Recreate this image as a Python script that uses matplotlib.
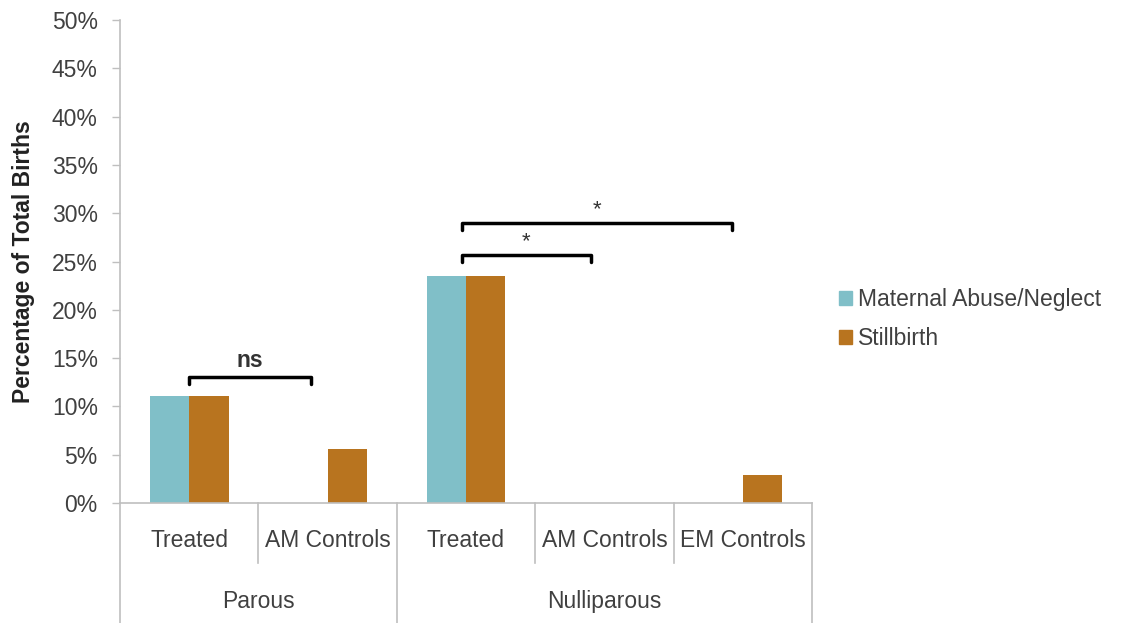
import matplotlib
matplotlib.use("Agg")
import matplotlib.pyplot as plt
from matplotlib.patches import Patch
from matplotlib.lines import Line2D
import matplotlib.transforms as mtransforms
import numpy as np

plt.rcParams['font.family'] = ['Liberation Sans', 'DejaVu Sans']

categories = ["Treated", "AM Controls", "Treated", "AM Controls", "EM Controls"]
groups = ["Parous", "Nulliparous"]
group_sizes = [2, 3]
series_names = ["Maternal Abuse/Neglect", "Stillbirth"]
abuse = [11.1, 0.0, 23.5, 0.0, 0.0]
stillbirth = [11.1, 5.6, 23.5, 0.0, 2.9]
yticks = [0, 5, 10, 15, 20, 25, 30, 35, 40, 45, 50]

# significance annotations: (x_start, x_end, y, label, bold)
brackets = [(0.0, 0.88, 13.0, "ns", True),
            (1.97, 2.9, 25.7, "*", False),
            (1.97, 3.92, 29.0, "*", False)]

teal = "#80bfc8"
orange = "#b8741f"
axis_gray = "#bfbfbf"
text_gray = "#404040"
FS = 16.5

fig = plt.figure(figsize=(11.26, 6.23), dpi=100)
ax = fig.add_axes([0.1066, 0.1926, 0.6145, 0.7753])

x = np.arange(len(categories))
w = 0.285
ax.bar(x - w / 2, abuse, width=w, color=teal, label=series_names[0])
ax.bar(x + w / 2, stillbirth, width=w, color=orange, label=series_names[1])

ax.set_xlim(-0.5, len(categories) - 0.5)
ax.set_ylim(0, 50)
ax.set_yticks(yticks)
ax.set_yticklabels([f"{t}%" for t in yticks], fontsize=FS, color=text_gray)
ax.tick_params(axis='y', direction='out', length=6, width=1, color=axis_gray, pad=10)
ax.set_xticks([])
for s in ['top', 'right']:
    ax.spines[s].set_visible(False)
for s in ['left', 'bottom']:
    ax.spines[s].set_color(axis_gray)
    ax.spines[s].set_linewidth(1.2)

ax.set_ylabel("Percentage of Total Births", fontsize=16.5, fontweight='bold',
              color="#222222", labelpad=12)

trans = mtransforms.blended_transform_factory(ax.transData, ax.transAxes)
# category labels
for i, c in enumerate(categories):
    ax.text(i, -0.0775, c, transform=trans, ha='center', va='center',
            fontsize=FS, color=text_gray)
# separators
edges = [-0.5]
pos = -0.5
for gs in group_sizes:
    for k in range(gs):
        pos += 1
        edges.append(pos)
group_edges = [-0.5]
p = -0.5
for gs in group_sizes:
    p += gs
    group_edges.append(p)
for e in edges:
    bottom = -0.26 if e in group_edges else -0.124
    ax.add_line(Line2D([e, e], [0, bottom], transform=trans, color=axis_gray,
                       lw=1.2, clip_on=False))
# group labels
start = -0.5
for g, gs in zip(groups, group_sizes):
    ax.text(start + gs / 2, -0.204, g, transform=trans, ha='center', va='center',
            fontsize=FS, color=text_gray)
    start += gs

# brackets
for x0, x1, y, lab, bold in brackets:
    ax.plot([x0, x0, x1, x1], [y - 0.7, y, y, y - 0.7], color='black', lw=2.5,
            solid_joinstyle='round', solid_capstyle='round', clip_on=False)
    if bold:
        ax.text((x0 + x1) / 2, y + 0.6, lab, ha='center', va='bottom',
                fontsize=FS, fontweight='bold', color="#333333")
    else:
        ax.text((x0 + x1) / 2, y + 0.3, lab, ha='center', va='bottom',
                fontsize=16, color="#333333")

handles = [Patch(color=teal), Patch(color=orange)]
fig.legend(handles, series_names, loc='center left', bbox_to_anchor=(0.727, 0.488),
           frameon=False, fontsize=FS, handlelength=0.55, handleheight=0.55,
           handletextpad=0.25, labelspacing=0.72, labelcolor=text_gray)

fig.savefig("out.png", dpi=100)
